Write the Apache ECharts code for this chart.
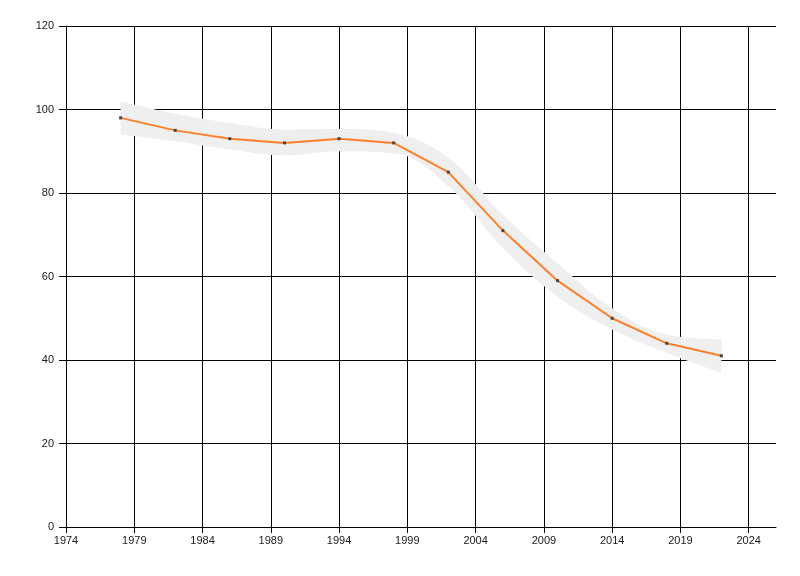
<!DOCTYPE html>
<html>
<head>
<meta charset="utf-8">
<title>chart</title>
<script src="https://cdn.jsdelivr.net/npm/echarts@6/dist/echarts.min.js"></script>
<style>
  html, body { margin: 0; padding: 0; background: #fff; }
  #chart { width: 800px; height: 576px; }
</style>
</head>
<body>
<div id="chart"></div>
<script>
  // values
  var years = [1978, 1982, 1986, 1990, 1994, 1998, 2002, 2006, 2010, 2014, 2018, 2022];
  var values = [98, 95, 93, 92, 93, 92, 85, 71, 59, 50, 44, 41];
  var bandUpper = [102, 99, 96.8, 95.2, 95.3, 94.4, 88.4, 74.8, 63.2, 52.4, 46.1, 45];
  var bandLower = [94, 92.4, 90.4, 89, 90, 89.5, 81.6, 66.8, 55.2, 47.3, 41.7, 37];

  var chart = echarts.init(document.getElementById('chart'));

  // [value, year] so the first dimension (the stacked one) is the y value
  function pairsYX(ys) {
    return years.map(function (y, i) { return [ys[i], y]; });
  }

  var plainLabel = function (v) { return String(v); };

  var option = {
    animation: false,
    grid: {
      left: 66,
      top: 26,
      right: 24,
      bottom: 49
    },
    xAxis: {
      type: 'value',
      min: 1974,
      max: 2026,
      interval: 5,
      axisLine: { lineStyle: { color: '#000', width: 1 } },
      axisTick: { length: 6, lineStyle: { color: '#000' } },
      axisLabel: {
        color: '#1a1a1a',
        fontFamily: 'Liberation Sans',
        fontSize: 11,
        margin: 8,
        showMaxLabel: false,
        formatter: plainLabel
      },
      splitLine: { show: true, showMaxLine: false, lineStyle: { color: '#000', width: 1 } }
    },
    yAxis: {
      type: 'value',
      min: 0,
      max: 120,
      interval: 20,
      axisLine: { show: true, lineStyle: { color: '#000', width: 1 } },
      axisTick: { show: true, length: 7, lineStyle: { color: '#000' } },
      axisLabel: {
        color: '#1a1a1a',
        fontFamily: 'Liberation Sans',
        fontSize: 11,
        margin: 12,
        formatter: plainLabel
      },
      splitLine: { show: true, lineStyle: { color: '#000', width: 1 } }
    },
    series: [
      {
        // lower edge of the confidence band (invisible)
        type: 'line',
        stack: 'band',
        data: pairsYX(bandLower),
        encode: { x: 1, y: 0 },
        smooth: 0.4,
        symbol: 'none',
        lineStyle: { opacity: 0 },
        silent: true
      },
      {
        // band thickness stacked on the lower edge
        type: 'line',
        stack: 'band',
        data: pairsYX(bandUpper.map(function (u, i) { return u - bandLower[i]; })),
        encode: { x: 1, y: 0 },
        smooth: 0.4,
        symbol: 'none',
        lineStyle: { opacity: 0 },
        areaStyle: { color: '#efefef', opacity: 1 },
        silent: true
      },
      {
        type: 'line',
        data: years.map(function (y, i) { return [y, values[i]]; }),
        symbol: 'rect',
        symbolSize: 3,
        itemStyle: { color: '#444' },
        lineStyle: { color: '#ff7f2a', width: 2 },
        z: 5
      }
    ]
  };

  chart.setOption(option);
</script>
</body>
</html>
